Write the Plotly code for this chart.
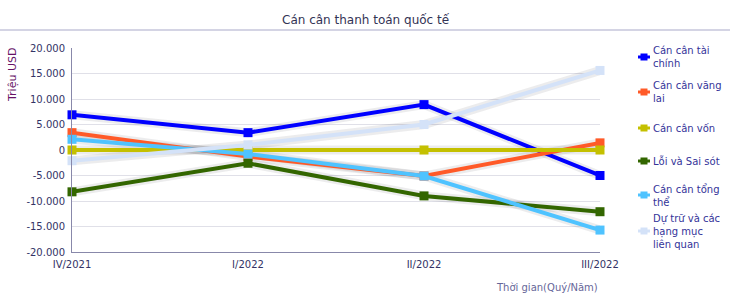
import plotly.graph_objects as go

categories = ["IV/2021", "I/2022", "II/2022", "III/2022"]
series_names = [
    "Cán cân tài<br>chính",
    "Cán cân vãng<br>lai",
    "Cán cân vốn",
    "Lỗi và Sai sót",
    "Cán cân tổng<br>thể",
    "Dự trữ và các<br>hạng mục<br>liên quan",
]
tai_chinh = [6900, 3400, 8900, -5000]
vang_lai = [3400, -1300, -5100, 1400]
von = [0, 0, 0, 0]
loi_sai_sot = [-8200, -2600, -9000, -12100]
tong_the = [2100, -800, -5100, -15700]
du_tru = [-2100, 1000, 5000, 15600]
series_values = [tai_chinh, vang_lai, von, loi_sai_sot, tong_the, du_tru]
colors = ["#0000FF", "#FF5A28", "#C4C000", "#336600", "#4FC3FF", "#D4E2F8"]
y_tickvals = [20000, 15000, 10000, 5000, 0, -5000, -10000, -15000, -20000]
y_ticktext = ["20.000", "15.000", "10.000", "5.000", "0", "-5.000", "-10.000", "-15.000", "-20.000"]

FONT = "DejaVu Sans"
W, H = 730, 306
L, R, T, B = 72, 130, 48, 54
plot_h = H - T - B
plot_w = W - L - R


def px_x(px):
    return (px - L) / plot_w


def px_y(py):
    return (H - B - py) / plot_h


fig = go.Figure()
x_idx = list(range(len(categories)))

# soft shadows under lines
for vals in series_values:
    fig.add_trace(go.Scatter(
        x=x_idx, y=vals, mode="lines",
        line=dict(color="rgba(40,40,60,0.09)", width=9),
        hoverinfo="skip", showlegend=False, cliponaxis=False,
    ))

for name, vals, col in zip(series_names, series_values, colors):
    fig.add_trace(go.Scatter(
        x=x_idx, y=vals, mode="lines+markers", name=name.replace("<br>", " "),
        line=dict(color=col, width=4),
        marker=dict(symbol="square", size=9, color=col),
        showlegend=False, cliponaxis=False,
    ))

# legend (drawn as key symbols + text)
legend_centers = [57, 92, 128, 161, 195, 231]
legend_sym_x = 644
legend_text_x = 651
annotations = []
shapes = []
for name, col, cy in zip(series_names, colors, legend_centers):
    shapes.append(dict(type="line", xref="paper", yref="paper",
                       x0=px_x(legend_sym_x - 6), x1=px_x(legend_sym_x + 6),
                       y0=px_y(cy), y1=px_y(cy), line=dict(color=col, width=3)))
    shapes.append(dict(type="rect", xref="paper", yref="paper",
                       x0=px_x(legend_sym_x - 3.5), x1=px_x(legend_sym_x + 3.5),
                       y0=px_y(cy + 3.5), y1=px_y(cy - 3.5),
                       fillcolor=col, line=dict(width=0)))
    annotations.append(dict(text=name, xref="paper", yref="paper",
                            x=px_x(legend_text_x), y=px_y(cy),
                            xanchor="left", yanchor="middle", align="left",
                            showarrow=False,
                            font=dict(family=FONT, size=10, color="#333399")))

annotations += [
    dict(text="Cán cân thanh toán quốc tế", xref="paper", yref="paper",
         x=px_x(366), y=px_y(20), xanchor="center", yanchor="middle",
         showarrow=False, font=dict(family=FONT, size=12, color="#333355")),
    dict(text="Triệu USD", xref="paper", yref="paper", textangle=-90,
         x=px_x(12), y=px_y(75), xanchor="center", yanchor="middle",
         showarrow=False, font=dict(family=FONT, size=11, color="#661166")),
    dict(text="Thời gian(Quý/Năm)", xref="paper", yref="paper",
         x=1, y=px_y(287), xanchor="right", yanchor="middle",
         showarrow=False, font=dict(family=FONT, size=10, color="#666699")),
]
shapes.append(dict(type="line", xref="paper", yref="paper",
                   x0=px_x(0), x1=px_x(W), y0=px_y(30), y1=px_y(30),
                   line=dict(color="#D4D4E4", width=2)))

fig.update_layout(
    width=W, height=H,
    margin=dict(l=L, r=R, t=T, b=B),
    paper_bgcolor="white", plot_bgcolor="white",
    font=dict(family=FONT, size=10, color="#333366"),
    separators=",.",
    showlegend=False,
    annotations=annotations,
    shapes=shapes,
)
fig.update_xaxes(
    range=[0, 3], tickvals=x_idx, ticktext=categories,
    showgrid=False, showline=True, linecolor="#8888AA", linewidth=1,
    ticks="", zeroline=False, ticklabelstandoff=3,
    tickfont=dict(family=FONT, size=10, color="#333366"),
)
fig.update_yaxes(
    range=[-20000, 20000], tickvals=y_tickvals, ticktext=y_ticktext,
    showgrid=True, gridcolor="#E0E0E8", gridwidth=1,
    showline=True, linecolor="#8888AA", linewidth=1,
    zeroline=False, ticks="", ticklabelstandoff=4,
    tickfont=dict(family=FONT, size=10, color="#333366"),
)

fig.write_html("out.html")
